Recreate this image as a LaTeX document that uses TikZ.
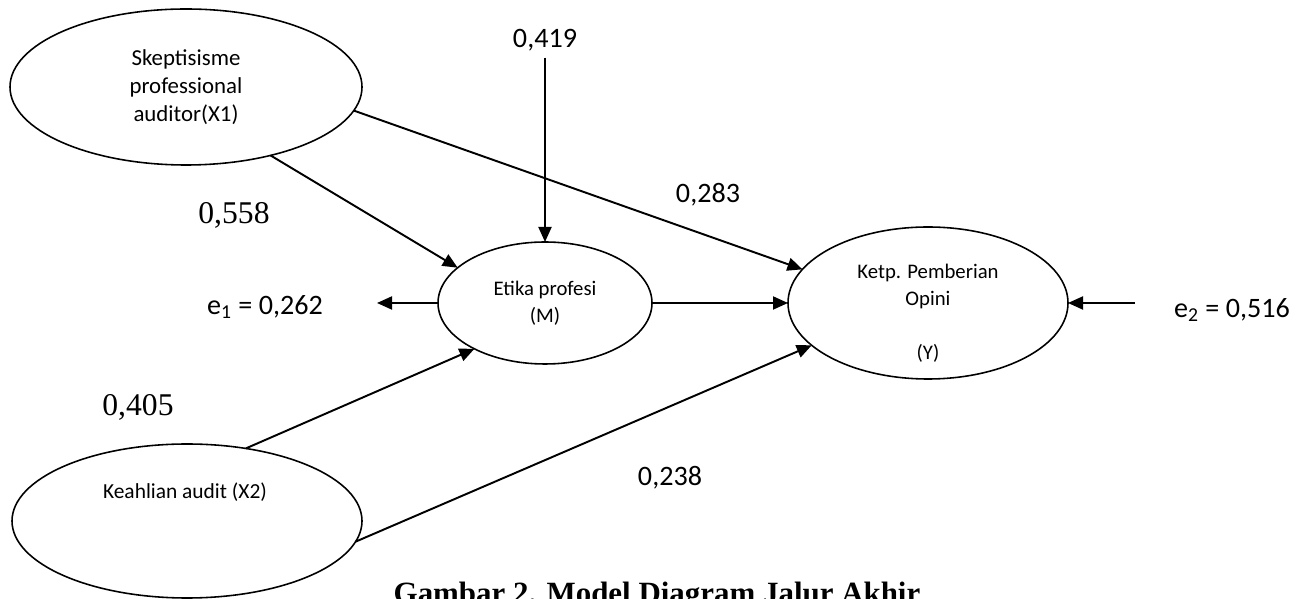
\documentclass[tikz,border=0pt]{standalone}
\usepackage{fontspec}
\setmainfont{Carlito}
\newfontfamily\timesfont{Liberation Serif}
\usetikzlibrary{positioning, arrows.meta, shapes.geometric}

\begin{document}
\begin{tikzpicture}[>={Triangle[length=0.3cm, width=0.26cm]}, line width=1.1pt,
  latent/.style={ellipse, draw, line width=0.9pt, inner sep=0pt, outer sep=0pt, align=center},
  vlabel/.style={align=center, font=\fontsize{11.8}{15.4}\selectfont},
  coef/.style={font=\fontsize{16}{19}\selectfont},
  coeft/.style={font=\timesfont\fontsize{18}{21}\selectfont}]
  \useasboundingbox (0,0) rectangle (26.2,11.98);
  % Variables
  \node[latent, minimum width=7.04cm, minimum height=3.12cm, font=\fontsize{13}{15.9}\selectfont]
    (X1) at (3.72,10.24) {Skeptisisme\\professional\\auditor(X1)};
  \node[latent, minimum width=4.28cm, minimum height=2.44cm, font=\fontsize{11.8}{15.4}\selectfont]
    (M) at (10.9,5.92) {Etika profesi\\(M)};
  \node[latent, minimum width=5.6cm, minimum height=3.04cm] (Y) at (18.56,5.92) {};
  \node[vlabel] (ylbl) at (18.56,5.72) {Ketp. Pemberian\\Opini\\[15.4pt](Y)};
  \node[latent, minimum width=7cm, minimum height=3.08cm] (X2) at (3.74,1.56) {};
  \node[vlabel, font=\fontsize{12.2}{15}\selectfont] (x2lbl) at (3.7,2.14) {Keahlian audit (X2)};
  % Coefficients
  \node[coef] (c419) at (10.9,11.18) {0,419};
  \node[coeft] (c558) at (4.68,7.68) {0,558};
  \node[coef] (c283) at (14.16,8.08) {0,283};
  \node[coeft] (c405) at (2.76,3.84) {0,405};
  \node[coef] (c238) at (13.4,2.42) {0,238};
  \node[coef] (e1) at (5.3,5.84) {e\textsubscript{1} = 0,262};
  \node[coef] (e2) at (24.64,5.78) {e\textsubscript{2} = 0,516};
  \coordinate (e1end) at (7.54,5.92);
  \coordinate (e2beg) at (22.7,5.92);
  % Paths
  \draw[->] (X1.-39) -- (M.158);
  \draw[->] (X1.-8) -- (Y.165);
  \draw[->] (c419.south) -- (M.north);
  \draw[->] (M) -- (e1end);
  \draw[->] (M) -- (Y);
  \draw[->] (e2beg) -- (Y);
  \draw[->] (X2.51) -- (M.213);
  \draw[->] (X2.-7) -- (Y.200);
  % Caption
  \node[font=\timesfont\bfseries\fontsize{17.6}{20}\selectfont, anchor=base]
    (cap) at (13.14,-0.09) {Gambar 2. Model Diagram Jalur Akhir};
\end{tikzpicture}
\end{document}
